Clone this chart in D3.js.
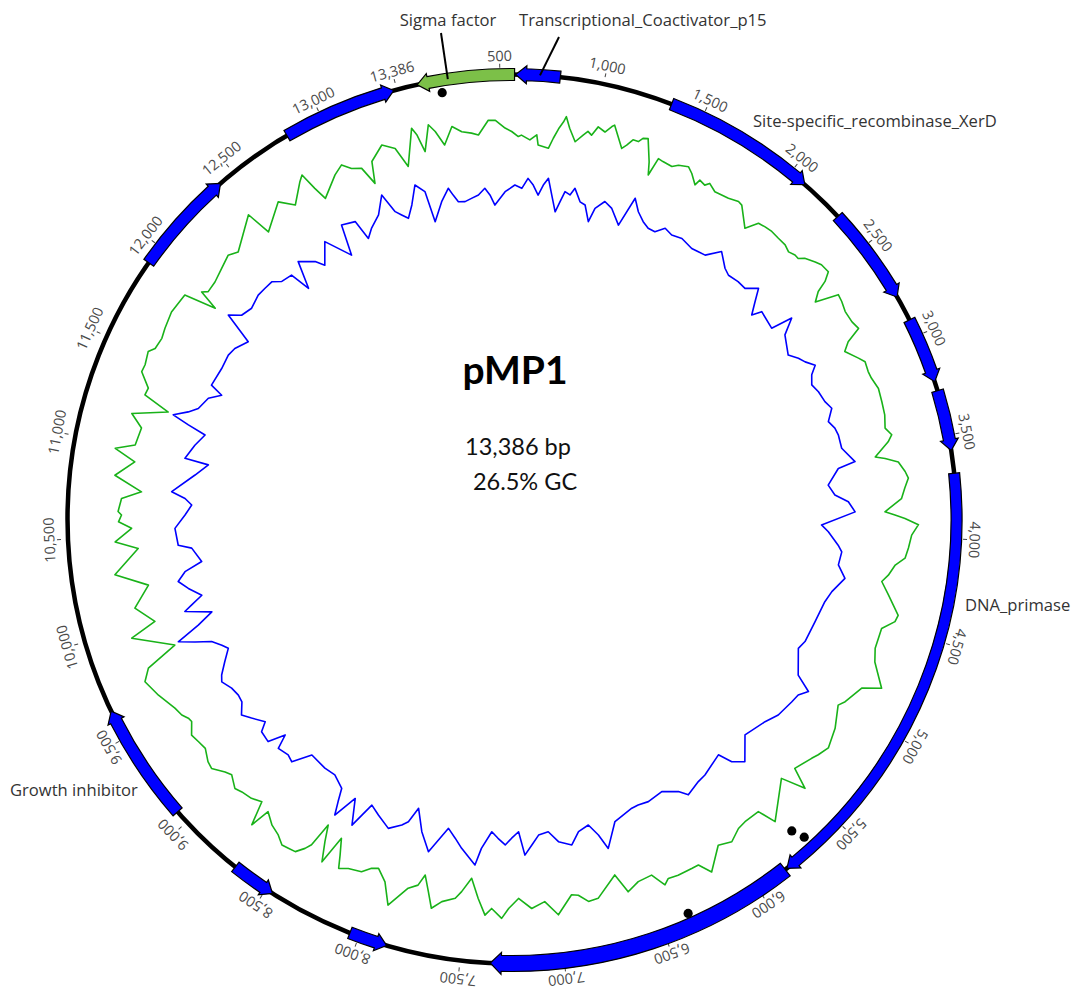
<!DOCTYPE html>
<html><head><meta charset="utf-8">
<script src="https://cdn.jsdelivr.net/npm/d3@7"></script>
<style>body{margin:0;background:#fff}svg{display:block}</style>
</head><body>
<svg id="chart" width="1076" height="991"></svg>
<script>
// ---------------- DATA ----------------
const plasmidName = "pMP1";
const plasmidLength = 13386;
const sizeText = "13,386 bp";
const gcText = "26.5% GC";

const geneNames   = ["Sigma factor","Transcriptional_Coactivator_p15","Site-specific_recombinase_XerD","orf4","orf5","orf6","DNA_primase","orf8","orf9","orf10","Growth inhibitor","orf12","orf13"];
const geneStarts  = [100, 575, 1340, 2310, 2915, 3280, 3685, 5840, 7860, 8463, 9065, 11906, 12813];
const geneEnds    = [570, 790, 2090, 2790, 3235, 3575, 5830, 7355, 8046, 8682, 9645, 12420, 13370];
const geneStrands = [-1, -1, 1, 1, 1, 1, 1, 1, -1, -1, 1, 1, 1];
const geneKinds   = ["sigma","cds","cds","cds","cds","cds","cds","cds","cds","cds","cds","cds","cds"];

const tickValues = [500,1000,1500,2000,2500,3000,3500,4000,4500,5000,5500,6000,6500,7000,7500,8000,8500,9000,9500,10000,10500,11000,11500,12000,12500,13000,13386];
const tickLabels = ["500","1,000","1,500","2,000","2,500","3,000","3,500","4,000","4,500","5,000","5,500","6,000","6,500","7,000","7,500","8,000","8,500","9,000","9,500","10,000","10,500","11,000","11,500","12,000","12,500","13,000","13,386"];

const siteDotPositions = [212, 5668, 5693, 6356];
const siteDotTracks    = [0, 0, 1, 0];

// GC content (%) along the plasmid (window centre, bp)
const gcContentPos = [22,63,112,178,234,283,372,431,520,610,706,766,811,844,911,970,1060,1101,1171,1246,1290,1361,1380,1465,1547,1625,1673,1781,1878,1997,2038,2123,2268,2331,2406,2491,2581,2621,2785,2911,3012,3108,3250,3395,3439,3544,3592,3685,3863,3901,3934,4116,4261,4425,4518,4704,4819,4864,5009,5239,5340,5537,5488,5726,5760,5905,6050,6154,6198,6321,6407,6455,6607,6652,6775,6879,7002,7069,7143,7214,7306,7396,7489,7567,7686,7760,7835,7913,8028,8110,8232,8296,8329,8403,8426,8481,8560,8731,8753,8794,8913,9021,9121,9229,9333,9422,9508,9612,9708,9768,9835,9950,10002,10103,10214,10300,10430,10474,10545,10619,10638,10753,10831,10917,10973,11110,11174,11240,11292,11404,11516,11612,11761,11876,11913,11943,12114,12244,12423,12445,12590,12657,12776,12798,12821,12988,13081,13118,13230,13293,13334,
  556,593,658,695,788,833,870,948,993,1019,1089,1192,1216,1264,1339,1409,1495,1580,1636,1692,1740,1822,1904,2079,2175,2227,2305,2354,2439,2521,2543,2662,2718,2833,2871,2978,3068,3175,3324,3473,3562,3648,3737,3793,3882,
  6916,6830,6537,6377,6239,5977,5853,5444,5302,5129,4973,4633,4462,4328,4220,4159,4060,3990,
  10582,9456,9396,9281,9162,9058,8954,8850,8667,8608,8522,8446,8370,8258,8184,8065,7968,7786,7721,7637,7537,7440,7362,7269,
  469,335,141,41,11010,10709,11966,11668,11547,11445,11333,12192,12032,12748,12932,13029,13148];
const gcContentVal = [29.6,24.4,29.5,24.9,28.3,27.0,26.0,28.8,27.1,25.7,23.9,23.4,27.5,30.1,25.4,27.9,28.5,30.3,26.2,28.5,29.7,22.9,26.7,26.3,27.7,25.1,26.0,26.1,26.9,23.4,25.9,26.4,25.8,26.3,28.4,29.2,23.5,28.1,27.5,23.4,26.2,26.1,26.5,25.7,26.7,22.6,27.0,28.6,23.5,27.5,30.2,27.9,23.9,28.5,26.0,26.9,30.2,26.6,24.0,27.0,25.6,23.7,28.5,29.1,25.4,25.6,26.1,30.0,27.5,27.5,28.2,25.4,27.0,23.0,26.7,25.3,28.6,25.7,26.9,24.8,28.8,28.3,21.2,25.6,28.4,22.2,25.6,30.0,23.7,25.6,26.9,21.3,27.3,20.3,25.4,28.3,28.7,25.1,29.2,24.4,25.7,24.8,27.0,25.5,26.2,24.9,26.2,27.9,29.2,27.5,20.9,28.6,23.2,26.4,22.8,29.1,23.9,28.4,25.0,27.0,27.7,23.2,28.8,25.2,29.5,25.2,27.8,20.9,26.4,28.6,29.0,27.7,28.6,28.2,21.7,25.8,25.6,25.4,29.4,24.2,27.7,25.2,29.5,25.9,23.1,27.5,25.2,21.4,28.1,26.6,22.4,
  26.4,25.4,24.8,25.9,25.5,29.0,27.9,27.0,27.3,29.2,29.9,27.1,28.5,29.4,25.4,26.5,27.1,26.8,26.4,26.8,25.9,26.3,26.7,26.2,26.3,26.3,26.3,27.3,29.0,27.5,25.2,27.9,27.4,28.0,24.9,25.3,26.0,26.7,26.3,25.7,24.5,28.1,27.7,26.9,25.5,
  25.0,26.9,25.7,27.3,27.5,27.0,25.3,24.3,26.2,25.9,24.9,26.0,28.2,25.7,25.0,26.1,28.4,28.9,
  27.6,25.7,24.7,25.8,26.7,25.4,26.2,25.3,26.7,27.5,28.5,26.7,23.5,24.4,26.1,24.2,25.8,24.5,25.3,26.7,24.1,25.1,26.9,26.8,
  28.7,26.5,27.9,28.0,25.7,27.1,24.8,28.1,28.0,28.5,26.2,26.4,24.9,28.6,26.3,26.0,25.7];

// GC skew along the plasmid (window centre, bp)
const gcSkewPos = [4,19,152,201,290,383,442,513,576,658,729,785,855,900,959,1093,1164,1298,1339,1491,1591,1718,1904,1974,2105,2242,2302,2402,2554,2577,2763,2904,3008,3194,3369,3551,3677,3860,3945,4075,4280,4455,4808,5027,5139,5343,5496,5622,5719,6039,6180,6414,6645,6730,6864,7005,7169,7206,7295,7388,7478,7682,7775,7916,8061,8221,8277,8340,8400,8452,8623,8749,8820,8976,9021,9132,9262,9329,9508,9686,9772,9846,9958,10010,10084,10203,10307,10430,10623,10690,10768,10973,10988,11166,11233,11319,11456,11490,11616,11858,11925,12047,12196,12304,12404,12467,12590,12679,12780,12824,12910,12936,13129,13170,13237,13341,
  545,621,693,757,818,878,935,1008,1045,1114,1220,1389,1443,1541,1649,1807,1855,2058,2179,2350,2428,2640,2815,2856,2949,3066,3140,3268,3320,3454,3577,3746,3795,
  7253,7121,7072,6946,6804,6682,6552,6366,6293,6083,5936,5875,5683,5256,5079,4968,4748,4600,4380,4202,4116,3990,
  10538,10404,10257,10147,10039,9902,9809,9723,9616,9547,9441,9379,9207,9097,8944,8868,8541,8426,8154,7987,7953,7849,7626,7574,7448,7344,
  413,338,245,175,93,13286,13202,13063,12984,12553,12378,12257,12137,11973,11772,11713,11404,11278,11200,11084,10891,10731];
const gcSkewVal = [0.054,-0.105,0.044,-0.031,-0.024,0.019,-0.068,-0.003,0.030,0.065,-0.015,0.073,-0.089,0.018,0.043,-0.105,0.014,-0.077,0.078,-0.035,0.003,0.000,-0.005,0.059,-0.010,-0.001,0.048,-0.066,-0.029,0.082,-0.034,0.060,0.002,0.052,0.045,0.099,-0.050,0.076,-0.092,-0.004,0.051,-0.022,-0.069,0.075,0.031,-0.019,-0.052,0.042,-0.073,-0.003,-0.085,-0.075,0.076,-0.063,0.017,-0.066,0.042,-0.076,-0.010,-0.073,0.100,-0.061,0.075,-0.120,0.026,-0.047,0.087,-0.038,0.085,-0.047,-0.082,-0.093,-0.001,-0.074,0.011,-0.043,0.030,-0.009,0.024,-0.081,-0.018,0.138,-0.069,0.060,-0.043,0.058,-0.074,0.034,-0.005,-0.037,0.067,-0.098,0.023,-0.049,0.132,0.023,-0.062,0.005,-0.005,-0.051,0.107,0.035,0.050,0.014,-0.102,0.033,-0.063,0.033,-0.096,0.059,0.041,-0.064,0.106,0.004,-0.050,0.099,
  0.013,0.014,0.033,0.037,-0.008,-0.035,0.006,-0.018,-0.028,-0.032,-0.009,0.021,-0.015,-0.036,-0.011,-0.016,-0.011,0.005,-0.001,-0.010,-0.017,0.006,0.002,0.023,0.023,0.019,0.031,0.015,0.037,0.046,0.011,-0.021,0.044,
  -0.044,-0.007,-0.054,-0.010,-0.042,-0.002,-0.042,-0.077,-0.071,-0.043,-0.030,-0.037,-0.003,0.013,0.040,-0.010,-0.052,-0.040,0.000,0.008,0.017,-0.057,
  0.046,-0.032,0.016,0.015,0.018,0.016,0.060,-0.058,-0.037,0.008,-0.003,-0.013,-0.001,0.003,-0.003,-0.014,-0.084,0.019,-0.016,-0.014,-0.040,-0.013,-0.019,0.026,0.014,-0.042,
  -0.016,-0.011,-0.036,0.006,-0.015,0.008,-0.023,0.021,-0.026,-0.020,0.004,0.048,0.052,0.053,-0.013,-0.002,-0.006,0.065,0.045,-0.012,-0.040,-0.002];

// ---------------- LAYOUT ----------------
const cx = 512, cy = 519;
const R = 444.5;
const originDeg = -15;
const svg = d3.select("#chart");
const g = svg.append("g").attr("transform", `translate(${cx},${cy})`);

const angle = d3.scaleLinear().domain([0, plasmidLength])
  .range([originDeg * Math.PI / 180, (originDeg + 360) * Math.PI / 180]);
const gcRadius = d3.scaleLinear().domain([26.5, 30]).range([388, 405.5]);
const skewRadius = d3.scaleLinear().domain([0, 0.1]).range([328, 348]);

const polar = (r, a) => [r * Math.sin(a), -r * Math.cos(a)];

const gcData = gcContentPos.map((p, i) => ({p, v: gcContentVal[i]})).sort((a, b) => a.p - b.p);
const skewData = gcSkewPos.map((p, i) => ({p, v: gcSkewVal[i]})).sort((a, b) => a.p - b.p);

g.append("path")
  .attr("d", d3.lineRadial().angle(d => angle(d.p)).radius(d => gcRadius(d.v)).curve(d3.curveLinearClosed)(gcData))
  .attr("fill", "none").attr("stroke", "#19b219").attr("stroke-width", 1.6).attr("stroke-linejoin", "round");
g.append("path")
  .attr("d", d3.lineRadial().angle(d => angle(d.p)).radius(d => skewRadius(d.v)).curve(d3.curveLinearClosed)(skewData))
  .attr("fill", "none").attr("stroke", "#0000ff").attr("stroke-width", 1.6).attr("stroke-linejoin", "round");

// backbone
g.append("circle").attr("r", R).attr("fill", "none").attr("stroke", "#000").attr("stroke-width", 4.5);

// ticks
const ticks = g.append("g");
tickValues.forEach((v, i) => {
  const a = angle(v) * 180 / Math.PI;
  const t = ticks.append("g").attr("transform", `rotate(${a})`);
  t.append("line").attr("x1", 0).attr("x2", 0).attr("y1", -R - 7).attr("y2", -R - 11)
    .attr("stroke", "#444").attr("stroke-width", 1);
  t.append("text").attr("x", 0).attr("y", -R - 13.5)
    .attr("text-anchor", "middle")
    .attr("font-family", "'Open Sans', 'DejaVu Sans', sans-serif")
    .attr("font-size", 14.5).attr("fill", "#4a4a4a")
    .text(tickLabels[i]);
});

// genes
const headExtra = 3, headPx = 11;
const geneHalfWidth = {"orf8": 8, "DNA_primase": 5.5};
function genePath(s, e, strand, rMid, bodyHalf) {
  const a0 = angle(s), a1 = angle(e);
  const rIn = rMid - bodyHalf, rOut = rMid + bodyHalf;
  const h = Math.min(headPx / rMid, (a1 - a0) * 0.6);
  const p = d3.path();
  let q;
  if (strand > 0) {
    const b = a1 - h;
    q = polar(rOut, a0); p.moveTo(q[0], q[1]);
    p.arc(0, 0, rOut, a0 - Math.PI / 2, b - Math.PI / 2, false);
    q = polar(rOut + headExtra, b); p.lineTo(q[0], q[1]);
    q = polar(rMid, a1); p.lineTo(q[0], q[1]);
    q = polar(rIn - headExtra, b); p.lineTo(q[0], q[1]);
    q = polar(rIn, b); p.lineTo(q[0], q[1]);
    p.arc(0, 0, rIn, b - Math.PI / 2, a0 - Math.PI / 2, true);
    p.closePath();
  } else {
    const b = a0 + h;
    q = polar(rOut, a1); p.moveTo(q[0], q[1]);
    p.arc(0, 0, rOut, a1 - Math.PI / 2, b - Math.PI / 2, true);
    q = polar(rOut + headExtra, b); p.lineTo(q[0], q[1]);
    q = polar(rMid, a0); p.lineTo(q[0], q[1]);
    q = polar(rIn - headExtra, b); p.lineTo(q[0], q[1]);
    q = polar(rIn, b); p.lineTo(q[0], q[1]);
    p.arc(0, 0, rIn, b - Math.PI / 2, a1 - Math.PI / 2, false);
    p.closePath();
  }
  return p.toString();
}
const kindColor = {sigma: "#7cc048", cds: "#0000ff"};
geneStarts.forEach((s, i) => {
  const half = geneHalfWidth[geneNames[i]] || 6;
  g.append("path").attr("d", genePath(s, geneEnds[i], geneStrands[i], R, half))
    .attr("fill", kindColor[geneKinds[i]]).attr("stroke", "#000").attr("stroke-width", 1.2);
});

// site dots
siteDotPositions.forEach((p, i) => {
  const q = polar(432 - 13 * siteDotTracks[i], angle(p));
  g.append("circle").attr("cx", q[0]).attr("cy", q[1]).attr("r", 4.6).attr("fill", "#000");
});

// gene labels (placement)
const labelFont = "'Open Sans', 'DejaVu Sans', sans-serif";
const labelLayout = {
  "Sigma factor": {x: 448, y: 26, anchor: "middle", leader: [[441, 33], 249]},
  "Transcriptional_Coactivator_p15": {x: 519, y: 26, anchor: "start", leader: [[559, 37], 692]},
  "Site-specific_recombinase_XerD": {x: 753, y: 127, anchor: "start"},
  "DNA_primase": {x: 965, y: 611, anchor: "start"},
  "Growth inhibitor": {x: 10, y: 796, anchor: "start"}
};
geneNames.forEach((n) => {
  const L = labelLayout[n];
  if (!L) return;
  svg.append("text").attr("x", L.x).attr("y", L.y).attr("text-anchor", L.anchor)
    .attr("font-family", labelFont).attr("font-size", 16.6).attr("fill", "#333")
    .text(n);
  if (L.leader) {
    const q = polar(R, angle(L.leader[1]));
    svg.append("line").attr("x1", L.leader[0][0]).attr("y1", L.leader[0][1])
      .attr("x2", cx + q[0]).attr("y2", cy + q[1])
      .attr("stroke", "#000").attr("stroke-width", 2);
  }
});

// centre text
const centreFont = "Lato, 'Open Sans', sans-serif";
svg.append("text").attr("x", 515).attr("y", 384).attr("text-anchor", "middle")
  .attr("font-family", centreFont).attr("font-weight", "bold").attr("font-size", 39).attr("fill", "#000")
  .text(plasmidName);
svg.append("text").attr("x", 518).attr("y", 455).attr("text-anchor", "middle")
  .attr("font-family", centreFont).attr("font-size", 23.5).attr("fill", "#111")
  .text(sizeText);
svg.append("text").attr("x", 525).attr("y", 490).attr("text-anchor", "middle")
  .attr("font-family", centreFont).attr("font-size", 23.5).attr("fill", "#111")
  .text(gcText);
</script>
</body></html>
